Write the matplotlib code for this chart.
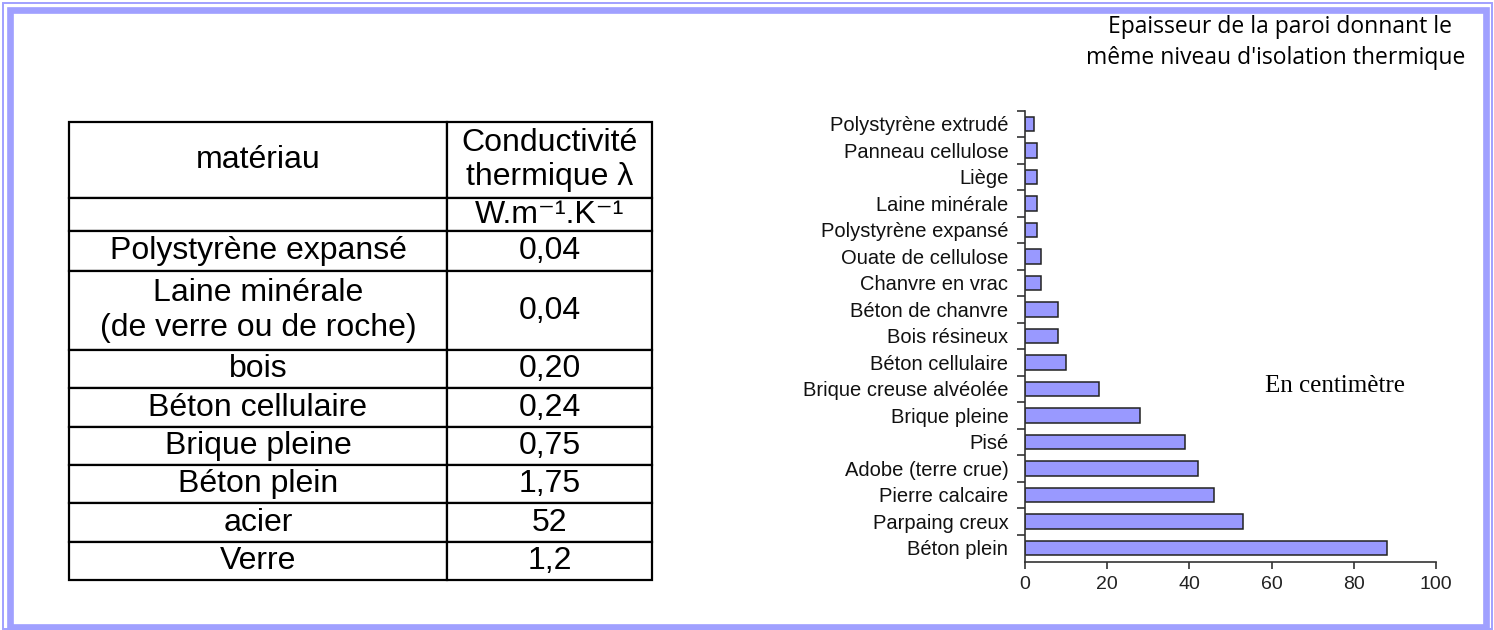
import matplotlib
matplotlib.use('Agg')
import matplotlib.pyplot as plt
from matplotlib.patches import Rectangle

# données du tableau (conductivité thermique)
header_row = ['matériau', 'Conductivité\nthermique λ']
unit_row = ['', 'W.m⁻¹.K⁻¹']
materials = ['Polystyrène expansé', 'Laine minérale\n(de verre ou de roche)', 'bois',
             'Béton cellulaire', 'Brique pleine', 'Béton plein', 'acier', 'Verre']
conductivity = ['0,04', '0,04', '0,20', '0,24', '0,75', '1,75', '52', '1,2']

# données du graphique (épaisseur en cm), de haut en bas
wall_names = ['Polystyrène extrudé', 'Panneau cellulose', 'Liège', 'Laine minérale',
              'Polystyrène expansé', 'Ouate de cellulose', 'Chanvre en vrac',
              'Béton de chanvre', 'Bois résineux', 'Béton cellulaire',
              'Brique creuse alvéolée', 'Brique pleine', 'Pisé', 'Adobe (terre crue)',
              'Pierre calcaire', 'Parpaing creux', 'Béton plein']
thickness = [2.2, 3, 3, 3, 3, 4, 4, 8, 8, 10, 18, 28, 39, 42, 46, 53, 88]
x_ticks = [0, 20, 40, 60, 80, 100]

title_lines = ['Epaisseur de la paroi donnant le', "même niveau d'isolation thermique"]
note = 'En centimètre'

plt.rcParams['font.family'] = ['Liberation Sans', 'DejaVu Sans']

W, H = 1494, 630
fig = plt.figure(figsize=(W / 100, H / 100), dpi=100)
fig.patch.set_facecolor('white')

def fx(px):
    return px / W

def fy(py):
    return 1 - py / H

frame_col = '#A0A0FF'
# cadre double
fig.add_artist(Rectangle((fx(3), fy(629)), fx(1491.5) - fx(3), fy(3) - fy(629),
                         transform=fig.transFigure, fill=False, ec=frame_col, lw=1.4))
fig.add_artist(Rectangle((fx(10), fy(626.5)), fx(1486) - fx(10), fy(10.3) - fy(626.5),
                         transform=fig.transFigure, fill=False, ec=frame_col, lw=4.8))

# titre
fig.text(fx(1280), fy(27), title_lines[0], ha='center', va='center',
         family='Open Sans', fontsize=16.5, color='black')
fig.text(fx(1276), fy(58), title_lines[1], ha='center', va='center',
         family='Open Sans', fontsize=16.5, color='black')

# ----- tableau -----
t_left, t_right, t_top, t_bot = 69, 652, 122, 580
tax = fig.add_axes([fx(t_left), fy(t_bot), fx(t_right) - fx(t_left), fy(t_top) - fy(t_bot)])
tax.axis('off')

cells = [header_row, unit_row] + [[m, c] for m, c in zip(materials, conductivity)]
row_h = [76, 33, 40, 79, 38.3, 38.3, 38.3, 38.3, 38.3, 38.3]
col_w = [378, 205]

tbl = tax.table(cellText=cells, cellLoc='center', bbox=[0, 0, 1, 1])
tbl.auto_set_font_size(False)
tbl.set_fontsize(23)
for (r, c), cell in tbl.get_celld().items():
    cell.set_height(row_h[r])
    cell.set_width(col_w[c])
    cell.set_linewidth(1.6)
    cell.set_edgecolor('black')
    cell.get_text().set_color('black')

# ----- graphique en barres -----
n = len(wall_names)
ypos = [n - 1 - i for i in range(n)]
ax = fig.add_axes([fx(1025), fy(562), fx(1436) - fx(1025), fy(110.75) - fy(562)])
ax.barh(ypos, thickness, height=0.55, color='#9999FF', edgecolor='#222222', linewidth=1.1)
ax.set_xlim(0, 100)
ax.set_ylim(-0.53, n - 0.5)

for s in ['top', 'right']:
    ax.spines[s].set_visible(False)
for s in ['left', 'bottom']:
    ax.spines[s].set_color('#333333')
    ax.spines[s].set_linewidth(1.2)

ax.set_xticks(x_ticks)
ax.set_xticklabels([str(v) for v in x_ticks])
ax.tick_params(axis='x', length=5, width=1.2, color='#333333', labelsize=14,
               labelcolor='#222222', pad=5)

ax.set_yticks(ypos)
ax.set_yticklabels(wall_names)
ax.tick_params(axis='y', which='major', length=0, pad=12, labelsize=14.5, labelcolor='#111111')
ax.set_yticks([p + 0.5 for p in range(n)], minor=True)
ax.tick_params(axis='y', which='minor', length=6, width=1.2, color='#333333')

ax.text(75.5, 6.1, note, ha='center', va='center', family='Liberation Serif',
        fontsize=18, color='black')

fig.savefig('out.png', dpi=100)
